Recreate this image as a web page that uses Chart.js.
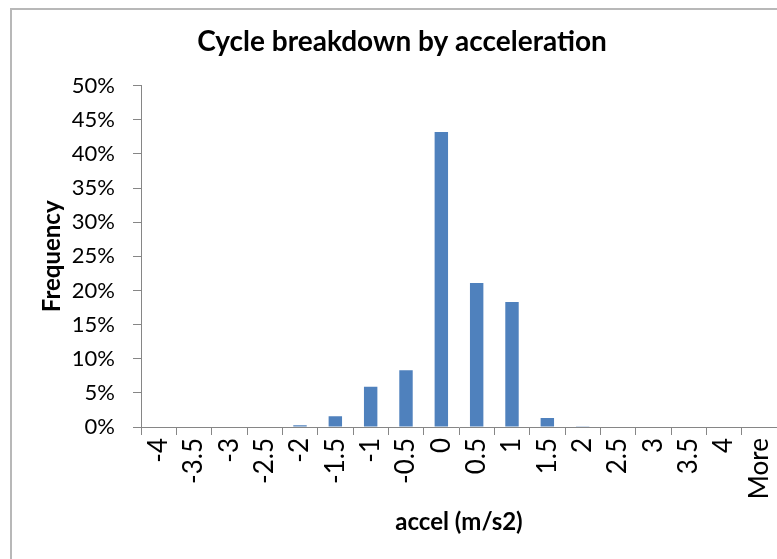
<!DOCTYPE html>
<html>
<head>
<meta charset="utf-8">
<title>Cycle breakdown by acceleration</title>
<script src="https://cdn.jsdelivr.net/npm/chart.js@4/dist/chart.umd.min.js"></script>
<style>
  html, body { margin: 0; padding: 0; background: #fff; }
  #wrap { width: 777px; height: 559px; }
</style>
</head>
<body>
<div id="wrap"><canvas id="chart" width="777" height="559"></canvas></div>
<script>
// === Data ===
const categories = ['-4', '-3.5', '-3', '-2.5', '-2', '-1.5', '-1', '-0.5', '0', '0.5', '1', '1.5', '2', '2.5', '3', '3.5', '4', 'More'];
const frequency = [0, 0, 0, 0, 0.0025, 0.0157, 0.059, 0.083, 0.432, 0.211, 0.183, 0.013, 0.001, 0, 0, 0, 0, 0];
const yTicks = [0, 0.05, 0.1, 0.15, 0.2, 0.25, 0.3, 0.35, 0.4, 0.45, 0.5];

// === Style ===
const FONT = 'Lato, "Open Sans", Arial, sans-serif';
const AXIS_GRAY = '#868686';
const BAR_BLUE = '#4f81bd';
const LEFT_PAD = 27; // keeps the title centred like the original box

// outer frame like the spreadsheet chart box
const framePlugin = {
    id: 'frame',
    beforeDraw(chart) {
        const ctx = chart.ctx;
        ctx.save();
        ctx.fillStyle = '#ffffff';
        ctx.fillRect(0, 0, chart.width, chart.height);
        ctx.strokeStyle = '#b8b8b8';
        ctx.lineWidth = 2;
        ctx.strokeRect(11, 9, chart.width + 20, chart.height + 20);
        ctx.restore();
    }
};

new Chart(document.getElementById('chart'), {
    type: 'bar',
    data: {
        labels: categories,
        datasets: [{
            label: 'Frequency',
            data: frequency,
            backgroundColor: BAR_BLUE,
            borderWidth: 0,
            categoryPercentage: 1,
            barPercentage: 0.38
        }]
    },
    options: {
        responsive: false,
        animation: false,
        layout: { padding: { left: LEFT_PAD, right: 0, top: 0, bottom: 0 } },
        plugins: {
            legend: { display: false },
            tooltip: { enabled: false },
            title: {
                display: true,
                text: 'Cycle breakdown by acceleration',
                color: '#000',
                font: { family: FONT, size: 28, weight: 'bold' },
                padding: { top: 25, bottom: 27 }
            }
        },
        scales: {
            x: {
                afterFit(scale) {
                    scale.height = 132;
                    // let the axis run to the right edge as in the original
                    scale.paddingLeft = 0;
                    scale.paddingRight = 0;
                },
                grid: {
                    display: true,
                    drawOnChartArea: false,
                    drawTicks: true,
                    tickLength: 8,
                    color: AXIS_GRAY,
                    offset: true
                },
                border: { color: AXIS_GRAY, width: 1 },
                ticks: {
                    autoSkip: false,
                    minRotation: 90,
                    maxRotation: 90,
                    padding: 3,
                    color: '#000',
                    font: { family: FONT, size: 26 }
                },
                title: {
                    display: true,
                    text: 'accel (m/s2)',
                    color: '#000',
                    font: { family: FONT, size: 24, weight: 'bold' },
                    padding: { top: 0, bottom: 22 }
                }
            },
            y: {
                min: 0,
                max: 0.5,
                afterFit(scale) { scale.width = 141 - LEFT_PAD; },
                afterBuildTicks(scale) {
                    scale.ticks = yTicks.map(v => ({ value: v }));
                },
                grid: {
                    display: true,
                    drawOnChartArea: false,
                    drawTicks: true,
                    tickLength: 8,
                    color: AXIS_GRAY
                },
                border: { color: AXIS_GRAY, width: 1 },
                ticks: {
                    padding: 18,
                    color: '#000',
                    font: { family: FONT, size: 22 },
                    callback: v => Math.round(v * 100) + '%'
                },
                title: {
                    display: true,
                    text: 'Frequency',
                    color: '#000',
                    font: { family: FONT, size: 24, weight: 'bold' },
                    padding: { top: 11, bottom: 0 }
                }
            }
        }
    },
    plugins: [framePlugin]
});
</script>
</body>
</html>
